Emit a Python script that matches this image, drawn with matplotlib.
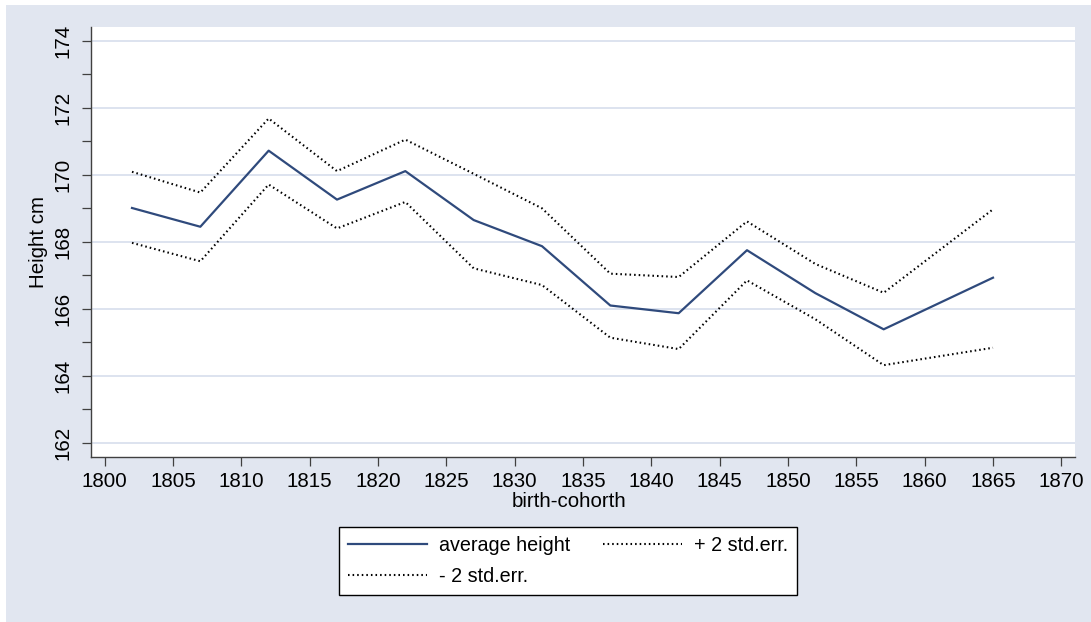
import matplotlib
matplotlib.use("Agg")
import matplotlib.pyplot as plt
from matplotlib.patches import Rectangle
from matplotlib.ticker import MultipleLocator

years = [1802, 1807, 1812, 1817, 1822, 1827, 1832, 1837, 1842, 1847, 1852, 1857, 1865]
avg_height = [169.01, 168.45, 170.72, 169.26, 170.11, 168.65, 167.87, 166.10, 165.87, 167.75, 166.47, 165.39, 166.93]
upper_2se = [170.09, 169.47, 171.68, 170.11, 171.05, 170.03, 169.00, 167.05, 166.95, 168.61, 167.34, 166.48, 168.97]
lower_2se = [167.97, 167.42, 169.71, 168.40, 169.19, 167.21, 166.71, 165.14, 164.80, 166.85, 165.69, 164.32, 164.84]
x_ticks = list(range(1800, 1871, 5))
y_ticks = [162, 164, 166, 168, 170, 172, 174]

plt.rcParams['font.family'] = ['Liberation Sans', 'DejaVu Sans']
W, H = 1091, 622
fig = plt.figure(figsize=(W / 100, H / 100), dpi=100)
fig.patch.set_facecolor('white')
bg = '#E1E6F0'
fig.patches.append(Rectangle((6 / W, 0), 1 - 6 / W, 1 - 5 / H, transform=fig.transFigure,
                             facecolor=bg, edgecolor='none', zorder=-10))

ax = fig.add_axes([91 / W, 1 - 457 / H, 984 / W, 430 / H])
ax.set_facecolor('white')

navy = '#2F4A7C'
dot = (0, (0.75, 1.45))
l1, = ax.plot(years, avg_height, color=navy, lw=1.6, label='average height', zorder=3)
l2, = ax.plot(years, upper_2se, color='black', lw=1.5, ls=dot, label='+ 2 std.err.', zorder=3)
l3, = ax.plot(years, lower_2se, color='black', lw=1.5, ls=dot, label='- 2 std.err.', zorder=3)

ax.set_xlim(1799.0, 1871.0)
ax.set_ylim(161.58, 174.41)
ax.set_xticks(x_ticks)
ax.set_yticks(y_ticks)
ax.yaxis.set_minor_locator(MultipleLocator(1))
for s in ['top', 'right']:
    ax.spines[s].set_visible(False)
for s in ['left', 'bottom']:
    ax.spines[s].set_color('#404040')
    ax.spines[s].set_linewidth(1.0)
ax.tick_params(axis='both', which='both', direction='out', length=6.5, width=0.9, color='#404040',
               labelsize=14.8, labelcolor='black')
ax.tick_params(axis='y', which='major', pad=7)
ax.tick_params(axis='x', which='major', pad=4)
for lab in ax.get_yticklabels():
    lab.set_rotation(90)
    lab.set_va('center')
ax.yaxis.grid(True, which='major', color='#DDE3EF', lw=1.4, zorder=0)
ax.set_axisbelow(True)

ax.set_ylabel('Height cm', fontsize=14.8, labelpad=4)
fig.text(569 / W, 1 - 501.5 / H, 'birth-cohorth', fontsize=14.8, ha='center', va='center')

leg = fig.legend([l1, l3, l2], ['average height', '- 2 std.err.', '+ 2 std.err.'],
                 ncol=2, loc='center', bbox_to_anchor=(568 / W, 1 - 560.8 / H),
                 fontsize=14.2, frameon=True, fancybox=False, framealpha=1,
                 edgecolor='black', handlelength=4.0, handletextpad=0.6,
                 columnspacing=1.7, borderpad=0.45, labelspacing=0.6)
leg.get_frame().set_linewidth(1.0)

fig.savefig('out.png', dpi=100, facecolor=fig.get_facecolor())
